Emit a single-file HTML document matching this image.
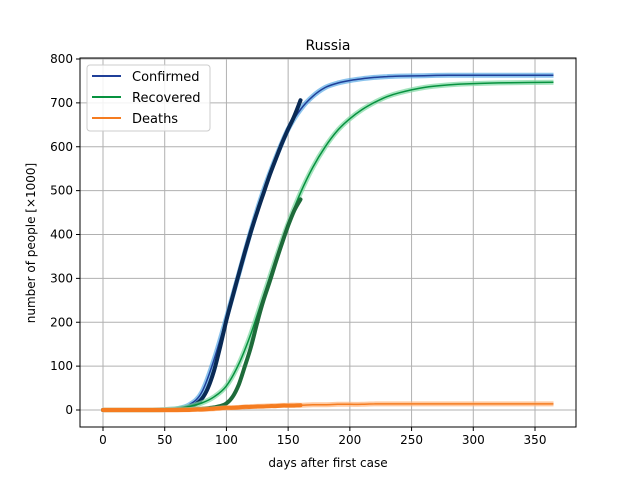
<!DOCTYPE html>
<html><head><meta charset="utf-8"><style>body{margin:0;background:#fff}svg{font-family:"DejaVu Sans","Liberation Sans",sans-serif}</style></head>
<body>
<svg id="c" width="640" height="480" xmlns="http://www.w3.org/2000/svg"></svg>
<script>
const xTicks=[0,50,100,150,200,250,300,350];
const yTicks=[0,100,200,300,400,500,600,700,800];
const obsDays=[0,5,10,15,20,25,30,35,40,45,50,55,60,65,70,75,80,85,90,95,100,105,110,115,120,125,130,135,140,145,150,155,160];
const confObs=[0,0,0,0,0,0,0,0,0,0,0,1,2,4,7,13,25,50,90,145,205,258,310,360,408,452,494,535,572,608,640,670,706];
const recObs=[0,0,0,0,0,0,0,0,0,0,0,0,0,0,1,2,3,4,6,9,15,30,58,100,145,200,250,292,337,380,420,455,480];
const deathObs=[0,0,0,0,0,0,0,0,0,0,0,0,0,0,0,1,1,2,3,4,5,5,6,7,7,8,8,9,9,10,10,10,11];
const fitDays=[0,10,20,30,40,50,60,70,80,90,100,110,120,130,140,150,160,170,180,190,200,210,220,230,240,260,280,300,330,365];
const confFit=[0,0,0,0,0,1,3,12,40,115,210,310,410,500,575,640,685,715,735,745,751,755,758,760,761,762,763,763,763,763];
const recFit=[0,0,0,0,0,1,3,8,16,30,55,105,175,260,345,425,495,553,600,637,664,685,701,714,723,735,741,744,746,747];
const deathFit=[0,0,0,0,0,0,0,1,2,3,5,6,8,9,10,11,11,12,12,13,13,13,14,14,14,14,14,14,14,14];
const L=80,T=58,R=576,B=427;
const x=d=>103+d*(535-103)/350;
const y=v=>410-v*(410-59)/800;
const s=document.getElementById('c');
const NS='http://www.w3.org/2000/svg';
function mk(t,a,p){const e=document.createElementNS(NS,t);for(const k in a)e.setAttribute(k,a[k]);(p||s).appendChild(e);return e;}
const grid=mk('g',{});


xTicks.forEach(t=>{mk('line',{x1:x(t),x2:x(t),y1:T,y2:B,stroke:'#b0b0b0','stroke-width':1},grid);
 mk('line',{x1:x(t),x2:x(t),y1:B,y2:B+4,stroke:'#000'});
 const tx=mk('text',{x:x(t),y:B+17,'text-anchor':'middle','font-size':12});tx.textContent=t;
 
 });
yTicks.forEach(t=>{mk('line',{x1:L,x2:R,y1:y(t),y2:y(t),stroke:'#b0b0b0','stroke-width':1},grid);
 mk('line',{x1:L-4,x2:L,y1:y(t),y2:y(t),stroke:'#000'});
 const tx=mk('text',{x:L-7,y:y(t)+4,'text-anchor':'end','font-size':12});tx.textContent=t;
 
 });
function path(xs,vs){
 const p=xs.map((d,i)=>[x(d),y(vs[i])]);
 let s='M'+p[0][0].toFixed(1)+','+p[0][1].toFixed(1);
 for(let i=0;i<p.length-1;i++){
  const p0=p[i-1]||p[i],p1=p[i],p2=p[i+1],p3=p[i+2]||p2;
  const c1=[p1[0]+(p2[0]-p0[0])/6,p1[1]+(p2[1]-p0[1])/6];
  const c2=[p2[0]-(p3[0]-p1[0])/6,p2[1]-(p3[1]-p1[1])/6];
  s+='C'+c1.map(v=>v.toFixed(1))+' '+c2.map(v=>v.toFixed(1))+' '+p2.map(v=>v.toFixed(1));
 }
 return s;}
const series=[[confFit,confObs,'#5aa9e6','#1f3f99','#0a2a55','confirmed'],[recFit,recObs,'#7fd9a2','#07923f','#1e6b3a','recovered'],[deathFit,deathObs,'#ffb47a','#f57c20','#f57c20','deaths']];
series.forEach(([f,o,band,line,dot,n])=>{
 const b=mk('path',{d:path(fitDays,f),fill:'none',stroke:band,'stroke-width':5,opacity:0.7});
 
 
 const l=mk('path',{d:path(fitDays,f),fill:'none',stroke:line,'stroke-width':1.5});
 
 
 const p=mk('path',{d:path(obsDays,o),fill:'none',stroke:dot,'stroke-width':4,'stroke-linecap':'round','stroke-linejoin':'round'});
 
 
});
const ax=mk('rect',{x:L,y:T,width:R-L,height:B-T,fill:'none',stroke:'#000','stroke-width':1});


const ti=mk('text',{x:328,y:50,'text-anchor':'middle','font-size':14});ti.textContent='Russia';


const xl=mk('text',{x:328,y:467,'text-anchor':'middle','font-size':12});xl.textContent='days after first case';


const yl=mk('text',{x:35,y:243,'text-anchor':'middle','font-size':12,transform:'rotate(-90 35 243)'});yl.textContent='number of people [×1000]';


const lg=mk('g',{});


mk('rect',{x:87,y:65,width:123,height:66,rx:3,fill:'#fff','fill-opacity':0.85,stroke:'#ccc'},lg);
[['Confirmed','#1f3f99'],['Recovered','#07923f'],['Deaths','#f57c20']].forEach(([t,c],i)=>{
 const yy=76+i*21;
 mk('line',{x1:92,x2:121,y1:yy,y2:yy,stroke:c,'stroke-width':2},lg);
 const tx=mk('text',{x:132,y:yy+5,'font-size':13},lg);tx.textContent=t;
 
 
});
</script>
</body></html>
